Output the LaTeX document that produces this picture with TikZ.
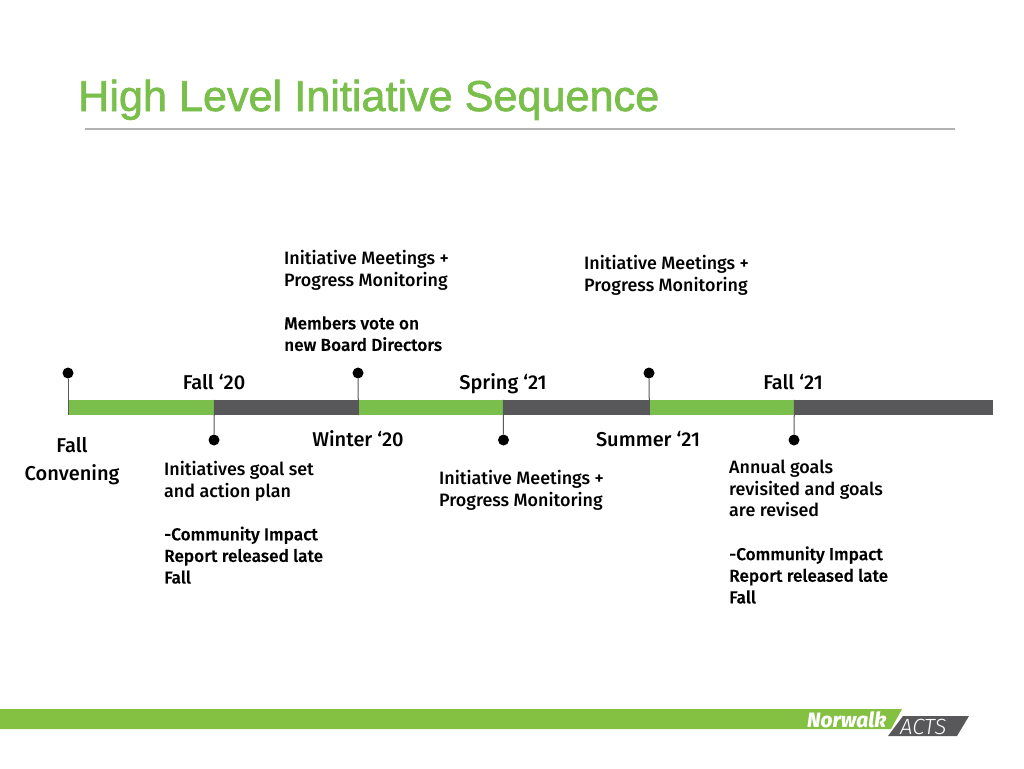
\documentclass[tikz,border=0pt]{standalone}
\usepackage{fontspec}
\setmainfont{Liberation Sans}
\newfontfamily\bodyf{Fira Sans}[UprightFont=* Medium]
\newfontfamily\dblf{Fira Sans}[UprightFont=* Medium,FakeBold=0.35]
\newfontfamily\titlef{Liberation Sans}[FakeBold=1.6]
\newfontfamily\nwf{Fira Sans}[ItalicFont=* ExtraBold Italic]
\newfontfamily\actf{Fira Sans}[ItalicFont=* Light Italic]
\definecolor{grn}{HTML}{7ABF4B}
\definecolor{fgrn}{HTML}{84C041}
\definecolor{drk}{HTML}{58585A}
\newcommand{\dbl}{\dblf\fontsize{17.2}{21.6}\selectfont}
\tikzset{
 seg/.style={draw=none,inner sep=0,minimum height=15pt,anchor=west},
 dot/.style={circle,fill=black,inner sep=0,minimum size=11pt},
 stem/.style={draw=drk,line width=1pt},
 lbl/.style={font=\bodyf\fontsize{17.9}{21.6}\selectfont,text=black,align=left,anchor=north west,inner sep=0},
 hd/.style={font=\bodyf\fontsize{20}{28}\selectfont,text=black,align=center,inner sep=0,anchor=base},
}
\begin{document}
\begin{tikzpicture}[x=1pt,y=-1pt]
\useasboundingbox (0,0) rectangle (1024,768);
\node[font=\titlef\fontsize{43.2}{50}\selectfont,text=grn,anchor=base west,inner sep=0] (title) at (78,111) {High Level Initiative Sequence};
\coordinate (rs) at (85,129); \coordinate (re) at (955,129);
\draw[color=black!30,line width=1.4pt] (rs) -- (re);
% bar
\node[seg,fill=grn,minimum width=146pt] (s1) at (68,407.5) {};
\node[seg,fill=drk,minimum width=144pt] (s2) at (214,407.5) {};
\node[seg,fill=grn,minimum width=145pt] (s3) at (358,407.5) {};
\node[seg,fill=drk,minimum width=146pt] (s4) at (503,407.5) {};
\node[seg,fill=grn,minimum width=145pt] (s5) at (649,407.5) {};
\node[seg,fill=drk,minimum width=199pt] (s6) at (794,407.5) {};
% dots
\node[dot] (d1) at (68,373) {};
\node[dot] (d2) at (214,440) {};
\node[dot] (d3) at (358,373) {};
\node[dot] (d4) at (503.5,440) {};
\node[dot] (d5) at (649,373) {};
\node[dot] (d6) at (794,440) {};
\draw[stem] (d1) -- (s1.south west);
\draw[stem] (d2) -- (s1.north east);
\draw[stem] (d3) -- (s2.south east);
\draw[stem] (d4) -- (s3.north east);
\draw[stem] (d5) -- (s4.south east);
\draw[stem] (d6) -- (s5.north east);
% period labels
\node[hd] (p1) at (214,389) {Fall ‘20};
\node[hd] (p2) at (358,446) {Winter ‘20};
\node[hd] (p3) at (503,389) {Spring ‘21};
\node[hd] (p4) at (648,446) {Summer ‘21};
\node[hd] (p5) at (793,389) {Fall ‘21};
\node[hd,anchor=center] (p0) at (72,461) {Fall\\Convening};
% texts
\node[lbl] (t1) at (284,250) {Initiative Meetings +\\Progress Monitoring\\[21.6pt]{\dbl Members vote on}\\{\dbl new Board Directors}};
\node[lbl] (t2) at (584,255) {Initiative Meetings +\\Progress Monitoring};
\node[lbl] (t3) at (164,461) {Initiatives goal set\\and action plan\\[21.6pt]{\dbl -Community Impact}\\{\dbl Report released late}\\{\dbl Fall}};
\node[lbl] (t4) at (439,470) {Initiative Meetings +\\Progress Monitoring};
\node[lbl] (t5) at (729,460) {Annual goals\\revisited and goals\\are revised\\[21.6pt]{\dbl -Community Impact}\\{\dbl Report released late}\\{\dbl Fall}};
% footer
\fill[fgrn] (0,709) -- (902,709) -- (891,729) -- (0,729) -- cycle;
\fill[drk] (903,716) -- (969,716) -- (957,736) -- (888,736) -- cycle;
\node[font=\nwf\itshape\fontsize{20.8}{18}\selectfont,text=white,anchor=base west,inner sep=0] (nw) at (807,727) {Norwalk};
\node[font=\actf\itshape\fontsize{22}{18}\selectfont,text=white,anchor=base west,inner sep=0] (ac) at (900,734) {ACTS};
\end{tikzpicture}
\end{document}
